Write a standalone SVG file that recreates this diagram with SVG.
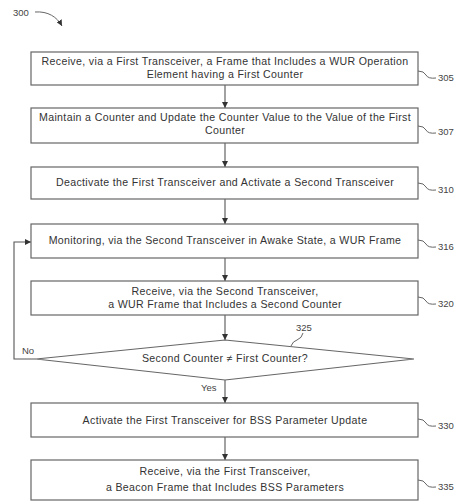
<svg xmlns="http://www.w3.org/2000/svg" width="464" height="504" viewBox="0 0 464 504">
<style>
.box{fill:#fff;stroke:#666;stroke-width:1.2}
.t{font-family:"Liberation Sans",Arial,sans-serif;font-size:10.6px;letter-spacing:0.35px;fill:#333;text-anchor:middle}
.ref{font-family:"Liberation Sans",Arial,sans-serif;font-size:9.5px;fill:#444}
.ln{fill:none;stroke:#555;stroke-width:1.1}
.ld{fill:none;stroke:#666;stroke-width:1}
</style>
<defs>
<marker id="ah" viewBox="0 0 10 10" refX="10" refY="5" markerWidth="6" markerHeight="6" orient="auto" markerUnits="userSpaceOnUse">
<path d="M0,0 L10,5 L0,10 z" fill="#333"/>
</marker>
</defs>
<rect width="464" height="504" fill="#fff"/>
<g id="fig">
<text class="ref" x="13" y="16">300</text>
<path class="ld" d="M35,12 C48,11 57,17 62,26" marker-end="url(#ah)"/>
</g>
<g id="connectors">
<line class="ln" x1="225" y1="85" x2="225" y2="108" marker-end="url(#ah)"/>
<line class="ln" x1="225" y1="143" x2="225" y2="167" marker-end="url(#ah)"/>
<line class="ln" x1="225" y1="199" x2="225" y2="224" marker-end="url(#ah)"/>
<line class="ln" x1="225" y1="258" x2="225" y2="281" marker-end="url(#ah)"/>
<line class="ln" x1="225" y1="315" x2="225" y2="340" marker-end="url(#ah)"/>
<line class="ln" x1="225" y1="380" x2="225" y2="403" marker-end="url(#ah)"/>
<line class="ln" x1="225" y1="437" x2="225" y2="460" marker-end="url(#ah)"/>
<path class="ln" d="M36,359 H14 V242 H31" marker-end="url(#ah)"/>
<text class="ref" x="22" y="354">No</text>
<text class="ref" x="201" y="391">Yes</text>
</g>
<g id="n305">
<rect class="box" x="31" y="52" width="387" height="33"/>
<text class="t" x="225" y="65">Receive, via a First Transceiver, a Frame that Includes a WUR Operation</text>
<text class="t" x="225" y="78">Element having a First Counter</text>
<path class="ld" d="M418,71 q6,0 8,4 q2,4 10,3"/>
<text class="ref" x="438" y="81">305</text>
</g>
<g id="n307">
<rect class="box" x="31" y="108" width="387" height="35"/>
<text class="t" x="225" y="121">Maintain a Counter and Update the Counter Value to the Value of the First</text>
<text class="t" x="225" y="134">Counter</text>
<path class="ld" d="M418,126 q6,0 8,4 q2,4 10,3"/>
<text class="ref" x="438" y="135">307</text>
</g>
<g id="n310">
<rect class="box" x="31" y="167" width="387" height="32"/>
<text class="t" x="225" y="186">Deactivate the First Transceiver and Activate a Second Transceiver</text>
<path class="ld" d="M418,183 q6,0 8,4 q2,4 10,3"/>
<text class="ref" x="438" y="193">310</text>
</g>
<g id="n316">
<rect class="box" x="31" y="224" width="387" height="34"/>
<text class="t" x="225" y="244">Monitoring, via the Second Transceiver in Awake State, a WUR Frame</text>
<path class="ld" d="M418,240 q6,0 8,4 q2,4 10,3"/>
<text class="ref" x="438" y="250">316</text>
</g>
<g id="n320">
<rect class="box" x="31" y="281" width="387" height="34"/>
<text class="t" x="225" y="295">Receive, via the Second Transceiver,</text>
<text class="t" x="225" y="308">a WUR Frame that Includes a Second Counter</text>
<path class="ld" d="M418,297 q6,0 8,4 q2,4 10,3"/>
<text class="ref" x="438" y="307">320</text>
</g>
<g id="n325">
<polygon class="box" points="225,340 414,359 225,380 36,359"/>
<text class="t" x="225" y="362">Second Counter ≠ First Counter?</text>
<path class="ld" d="M291,346 q2,-5 6,-6 q5,-2 6,-7"/>
<text class="ref" x="296" y="331">325</text>
</g>
<g id="n330">
<rect class="box" x="31" y="403" width="387" height="34"/>
<text class="t" x="225" y="424">Activate the First Transceiver for BSS Parameter Update</text>
<path class="ld" d="M418,419 q6,0 8,4 q2,4 10,3"/>
<text class="ref" x="438" y="429">330</text>
</g>
<g id="n335">
<rect class="box" x="31" y="460" width="387" height="40"/>
<text class="t" x="225" y="475">Receive, via the First Transceiver,</text>
<text class="t" x="225" y="491">a Beacon Frame that Includes BSS Parameters</text>
<path class="ld" d="M418,480 q6,0 8,4 q2,4 10,3"/>
<text class="ref" x="438" y="490">335</text>
</g>
</svg>
